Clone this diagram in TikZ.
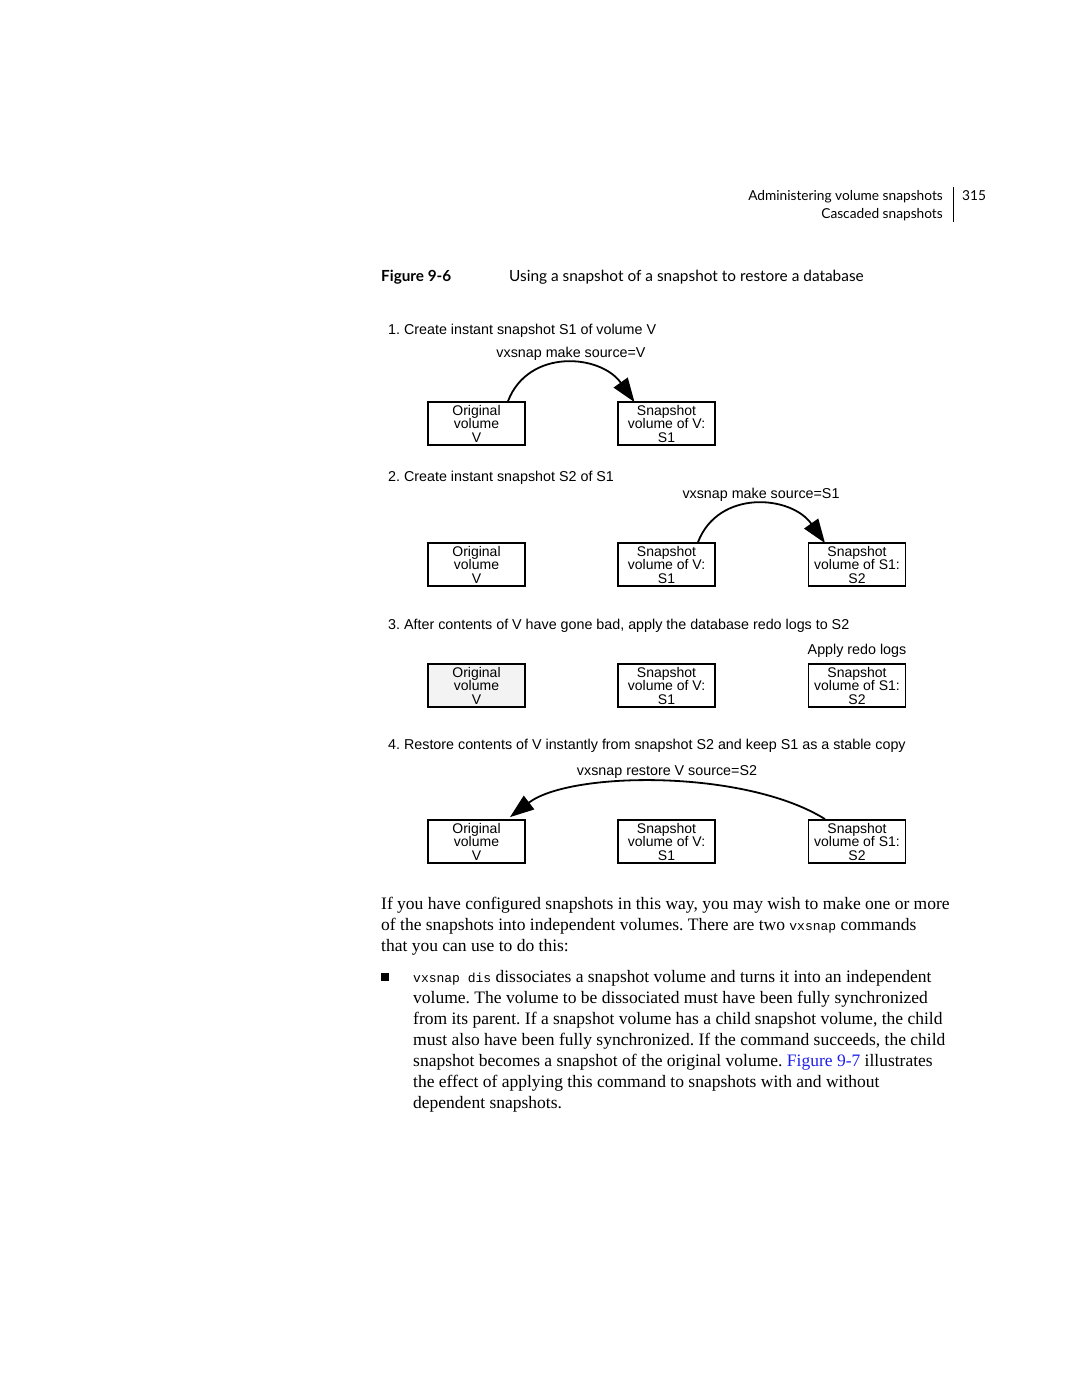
\documentclass[tikz,border=0pt]{standalone}
\usepackage{fontspec}
\setmainfont{Liberation Serif}
\newfontfamily\diagfont{Liberation Sans}
\newfontfamily\hdrfont{Lato}
\newfontfamily\monofont{Liberation Mono}
\usetikzlibrary{arrows.meta,calc}
\definecolor{linkblue}{RGB}{30,30,235}
\definecolor{boxgrey}{RGB}{243,243,243}
\frenchspacing
\begin{document}
\begin{tikzpicture}[x=1pt,y=-1pt,
  volbox/.style={draw,line width=1.8pt,minimum width=97pt,minimum height=43pt,inner sep=0pt,
    align=center,font=\diagfont\fontsize{14}{13.5}\selectfont},
  diagtext/.style={anchor=base west,inner sep=0pt,font=\diagfont\fontsize{14.3}{16}\selectfont},
  cmdtext/.style={anchor=base,inner sep=0pt,font=\diagfont\fontsize{14.3}{16}\selectfont},
  bodytext/.style={anchor=base west,inner sep=0pt,font=\frenchspacing\fontsize{17.5}{21}\selectfont},
  hdrtext/.style={anchor=base east,inner sep=0pt,font=\hdrfont\fontsize{13.7}{16}\selectfont},
  cmdarrow/.style={line width=1.8pt,-{Triangle[length=24pt,width=17pt]}}
]
\useasboundingbox (0,0) rectangle (1080,1397);
% header
\node[hdrtext] (h1) at (943,200) {Administering volume snapshots};
\node[hdrtext] (h2) at (943,218) {Cascaded snapshots};
\node[anchor=base west,inner sep=0pt,font=\hdrfont\fontsize{13.7}{16}\selectfont] (pg) at (962,200) {315};
\coordinate (vt) at (953,187);
\coordinate (vb) at (953,222);
\draw[line width=0.8pt] (vt) -- (vb);
% caption
\node[anchor=base west,inner sep=0pt,font=\hdrfont\bfseries\fontsize{15.3}{18}\selectfont] (fig) at (381,281) {Figure 9-6};
\node[anchor=base west,inner sep=0pt,font=\hdrfont\fontsize{15.4}{18}\selectfont] (cap) at (509,281) {Using a snapshot of a snapshot to restore a database};

% step 1
\node[diagtext] (s1) at (388,334) {1. Create instant snapshot S1 of volume V};
\node[cmdtext] (c1) at (571,357) {vxsnap make source=V};
\node[volbox] (a1) at (476.5,423.5) {Original\\volume\\V};
\node[volbox] (b1) at (666.5,423.5) {Snapshot\\volume of V:\\S1};
\draw[cmdarrow] ($(a1.north)+(31.5,0)$) .. controls ($(a1.north)+(52,-53)$) and ($(b1.north)+(-66,-47)$) .. ($(b1.north)+(-32,1)$);

% step 2
\node[diagtext] (s2) at (388,481) {2. Create instant snapshot S2 of S1};
\node[cmdtext] (c2) at (761,498) {vxsnap make source=S1};
\node[volbox] (a2) at (476.5,564.5) {Original\\volume\\V};
\node[volbox] (b2) at (666.5,564.5) {Snapshot\\volume of V:\\S1};
\node[volbox] (d2) at (857,564.5) {Snapshot\\volume of S1:\\S2};
\draw[cmdarrow] ($(b2.north)+(31.5,0)$) .. controls ($(b2.north)+(52,-53)$) and ($(d2.north)+(-66,-47)$) .. ($(d2.north)+(-32,1)$);

% step 3
\node[diagtext] (s3) at (388,629) {3. After contents of V have gone bad, apply the database redo logs to S2};
\node[cmdtext] (c3) at (857,654) {Apply redo logs};
\node[volbox,fill=boxgrey] (a3) at (476.5,685.5) {Original\\volume\\V};
\node[volbox] (b3) at (666.5,685.5) {Snapshot\\volume of V:\\S1};
\node[volbox] (d3) at (857,685.5) {Snapshot\\volume of S1:\\S2};

% step 4
\node[diagtext] (s4) at (388,749) {4. Restore contents of V instantly from snapshot S2 and keep S1 as a stable copy};
\node[cmdtext] (c4) at (667,775) {vxsnap restore V source=S2};
\node[volbox] (a4) at (476.5,841.5) {Original\\volume\\V};
\node[volbox] (b4) at (666.5,841.5) {Snapshot\\volume of V:\\S1};
\node[volbox] (d4) at (857,841.5) {Snapshot\\volume of S1:\\S2};
\draw[cmdarrow] ($(d4.north)+(-32,0)$) .. controls ($(d4.north)+(-112,-50)$) and ($(a4.north)+(93.5,-48)$) .. ($(a4.north)+(33.5,-2)$);

% body text
\node[bodytext] (p1) at (381,909) {If you have configured snapshots in this way, you may wish to make one or more};
\node[bodytext] (p2) at (381,930) {of the snapshots into independent volumes. There are two {\monofont\fontsize{13}{21}\selectfont vxsnap} commands};
\node[bodytext] (p3) at (381,951) {that you can use to do this:};
\node[fill=black,minimum size=8pt,inner sep=0pt] (bul) at (385,977) {};
\node[bodytext] (l1) at (413,982) {{\monofont\fontsize{13}{21}\selectfont vxsnap dis} dissociates a snapshot volume and turns it into an independent};
\node[bodytext] (l2) at (413,1003) {volume. The volume to be dissociated must have been fully synchronized};
\node[bodytext] (l3) at (413,1024) {from its parent. If a snapshot volume has a child snapshot volume, the child};
\node[bodytext] (l4) at (413,1045) {must also have been fully synchronized. If the command succeeds, the child};
\node[bodytext] (l5) at (413,1066) {snapshot becomes a snapshot of the original volume. {\color{linkblue}Figure 9-7} illustrates};
\node[bodytext] (l6) at (413,1087) {the effect of applying this command to snapshots with and without};
\node[bodytext] (l7) at (413,1108) {dependent snapshots.};
\end{tikzpicture}
\end{document}
